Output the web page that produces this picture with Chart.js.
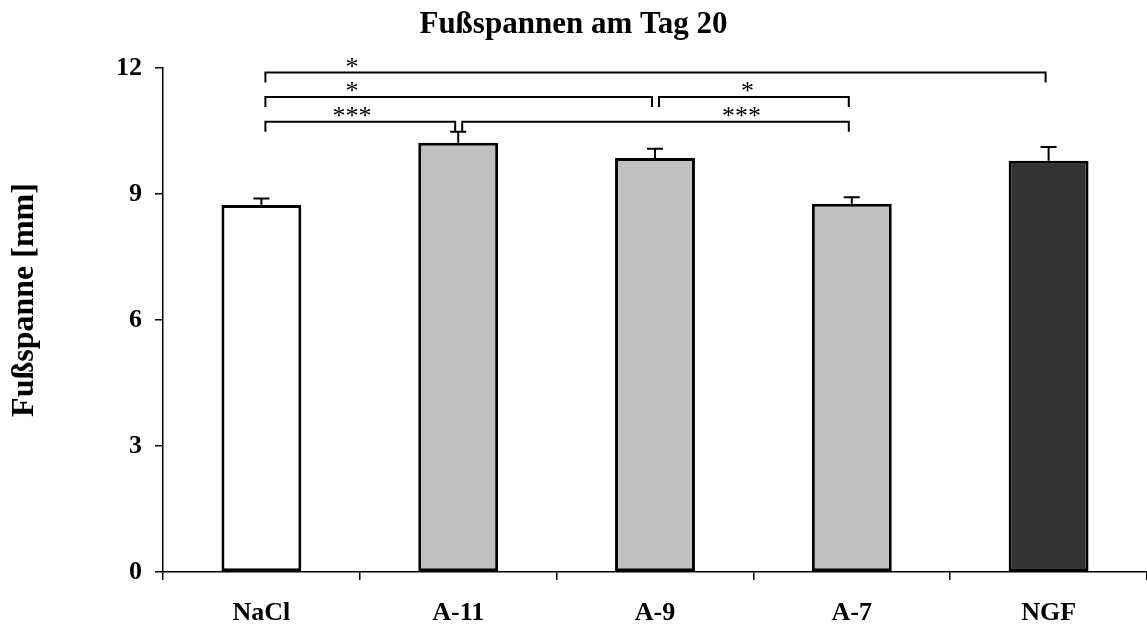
<!DOCTYPE html>
<html>
<head>
<meta charset="utf-8">
<script src="https://cdn.jsdelivr.net/npm/chart.js@4"></script>
<style>
  html, body { margin: 0; padding: 0; background: #fff; }
  #wrap { width: 1147px; height: 625px; }
</style>
</head>
<body>
<div id="wrap"><canvas id="chart"></canvas></div>
<script>
// groups and values (mm)
var groups = ["NaCl", "A-11", "A-9", "A-7", "NGF"];
var means = [8.74, 10.22, 9.86, 8.77, 9.79];
var errors = [0.15, 0.26, 0.22, 0.15, 0.33];
var yTicks = [0, 3, 6, 9, 12];

// significance brackets: from group, to group, height (mm), label, label position (group index)
var bracketFrom = [0, 0, 2, 0, 1];
var bracketTo = [4, 2, 3, 1, 3];
var bracketLevel = [11.89, 11.31, 11.31, 10.72, 10.72];
var bracketLabel = ["*", "*", "*", "***", "***"];
var bracketLabelAt = [0.46, 0.46, 2.47, 0.46, 2.44];

var serif = "'Liberation Serif', 'Times New Roman', serif";
var fills = ["#ffffff", "#c0c0c0", "#c0c0c0", "#c0c0c0", "#333333"];

// x pixel for a (fractional) group position
function groupX(xs, pos) {
    var i = Math.floor(pos);
    if (i >= groups.length - 1) return xs.getPixelForValue(groups.length - 1);
    var a = xs.getPixelForValue(i), b = xs.getPixelForValue(i + 1);
    return a + (b - a) * (pos - i);
}

var extras = {
    id: "extras",
    afterDatasetsDraw: function(chart) {
        var ctx = chart.ctx, xs = chart.scales.x, ys = chart.scales.y;
        ctx.save();
        ctx.strokeStyle = "#000";
        ctx.lineWidth = 2;
        // error bars (upper only)
        for (var i = 0; i < means.length; i++) {
            var x = xs.getPixelForValue(i);
            var y0 = ys.getPixelForValue(means[i]);
            var y1 = ys.getPixelForValue(means[i] + errors[i]);
            ctx.beginPath();
            ctx.moveTo(x, y0);
            ctx.lineTo(x, y1);
            ctx.moveTo(x - 8, y1);
            ctx.lineTo(x + 8, y1);
            ctx.stroke();
        }
        // brackets
        ctx.fillStyle = "#000";
        ctx.font = "26px " + serif;
        ctx.textAlign = "center";
        ctx.textBaseline = "alphabetic";
        for (var j = 0; j < bracketFrom.length; j++) {
            var xa = xs.getPixelForValue(bracketFrom[j]) + 4;
            var xb = xs.getPixelForValue(bracketTo[j]) - 3;
            var yl = ys.getPixelForValue(bracketLevel[j]);
            ctx.beginPath();
            ctx.moveTo(xa, yl + 10);
            ctx.lineTo(xa, yl);
            ctx.lineTo(xb, yl);
            ctx.lineTo(xb, yl + 10);
            ctx.stroke();
            ctx.fillText(bracketLabel[j], groupX(xs, bracketLabelAt[j]), yl + 2.5);
        }
        ctx.restore();
    },
    afterDraw: function(chart) {
        // y axis title
        var ctx = chart.ctx;
        ctx.save();
        ctx.translate(33, 300);
        ctx.rotate(-Math.PI / 2);
        ctx.fillStyle = "#000";
        ctx.font = "bold 32px " + serif;
        ctx.textAlign = "center";
        ctx.textBaseline = "alphabetic";
        ctx.fillText("Fußspanne [mm]", 0, 0);
        ctx.restore();
    }
};

var chart = new Chart(document.getElementById("chart"), {
    type: "bar",
    data: {
        labels: groups,
        datasets: [{
            data: means,
            backgroundColor: fills,
            borderColor: "#000",
            borderWidth: 3,
            borderSkipped: false,
            barPercentage: 0.406,
            categoryPercentage: 1
        }]
    },
    options: {
        responsive: true,
        maintainAspectRatio: false,
        animation: false,
        layout: { padding: 0 },
        plugins: {
            legend: { display: false },
            tooltip: { enabled: false },
            title: {
                display: true,
                text: "Fußspannen am Tag 20",
                color: "#000",
                font: { family: serif, size: 31, weight: "bold" },
                padding: { top: 5.9, bottom: 24.9 }
            }
        },
        scales: {
            x: {
                afterFit: function(scale) { scale.height = 53; },
                grid: { drawOnChartArea: false, drawTicks: true, tickLength: 8, color: "#000", lineWidth: 1.5 },
                border: { display: true, color: "#000", width: 1.5 },
                ticks: {
                    color: "#000",
                    padding: 18,
                    font: { family: serif, size: 26, weight: "bold" }
                }
            },
            y: {
                min: 0,
                max: 12,
                afterFit: function(scale) { scale.width = 163; },
                afterBuildTicks: function(scale) {
                    scale.ticks = yTicks.map(function(v) { return { value: v }; });
                },
                grid: { drawOnChartArea: false, drawTicks: true, tickLength: 8, color: "#000", lineWidth: 1.5 },
                border: { display: true, color: "#000", width: 1.5 },
                ticks: {
                    color: "#000",
                    padding: 13,
                    font: { family: serif, size: 26, weight: "bold" }
                }
            }
        }
    },
    plugins: [extras]
});
</script>
</body>
</html>
